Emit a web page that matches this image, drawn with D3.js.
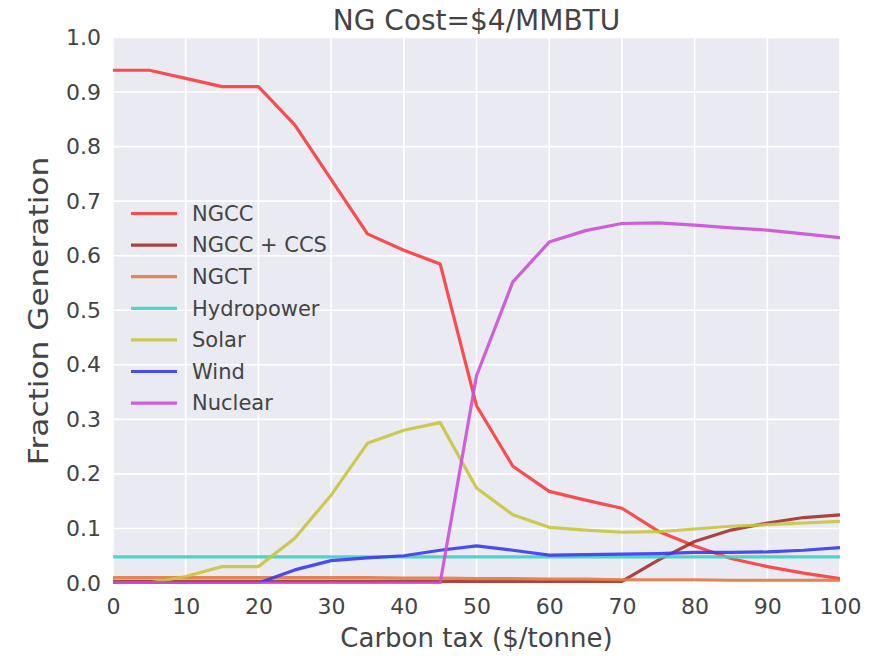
<!DOCTYPE html>
<html>
<head>
<meta charset="utf-8">
<script src="https://cdn.jsdelivr.net/npm/d3@7"></script>
<style>
  html, body { margin: 0; padding: 0; background: #ffffff; }
  svg { display: block; }
  text { font-family: "DejaVu Sans", sans-serif; fill: #444444; }
</style>
</head>
<body>
<svg id="chart" width="884" height="656"></svg>
<script>
const title = "NG Cost=$4/MMBTU";
const xLabel = "Carbon tax ($/tonne)";
const yLabel = "Fraction Generation";
const carbonTax = [0,5,10,15,20,25,30,35,40,45,50,55,60,65,70,75,80,85,90,95,100];
const xTicks = [0,10,20,30,40,50,60,70,80,90,100];
const yTicks = [0.0,0.1,0.2,0.3,0.4,0.5,0.6,0.7,0.8,0.9,1.0];
const seriesNames = ["NGCC","NGCC + CCS","NGCT","Hydropower","Solar","Wind","Nuclear"];
const seriesColors = ["#f93b3d","#a3312f","#e07b45","#3fd0c8","#c8c63c","#3a3af2","#cc4fd8"];
const ngcc      = [0.94,0.94,0.925,0.91,0.91,0.84,0.74,0.64,0.61,0.585,0.325,0.214,0.168,0.152,0.137,0.095,0.068,0.045,0.03,0.018,0.008];
const ngccCcs   = [0.003,0.003,0.003,0.003,0.003,0.003,0.003,0.003,0.003,0.003,0.003,0.003,0.003,0.003,0.003,0.042,0.076,0.097,0.11,0.12,0.125];
const ngct      = [0.01,0.01,0.01,0.01,0.01,0.01,0.01,0.01,0.009,0.009,0.008,0.008,0.007,0.007,0.006,0.006,0.006,0.005,0.005,0.005,0.005];
const hydro     = [0.048,0.048,0.048,0.048,0.048,0.048,0.048,0.048,0.048,0.048,0.048,0.048,0.048,0.048,0.048,0.048,0.048,0.048,0.048,0.048,0.048];
const solar     = [0.0,0.0,0.012,0.03,0.03,0.082,0.161,0.256,0.28,0.294,0.174,0.125,0.102,0.097,0.093,0.094,0.099,0.104,0.107,0.11,0.113];
const wind      = [0.0,0.0,0.0,0.0,0.0,0.024,0.041,0.046,0.05,0.06,0.068,0.06,0.051,0.052,0.053,0.054,0.056,0.056,0.057,0.06,0.065];
const nuclear   = [0.0,0.0,0.0,0.0,0.0,0.0,0.0,0.0,0.0,0.0,0.38,0.552,0.625,0.646,0.659,0.66,0.656,0.651,0.647,0.64,0.633];
const seriesValues = [ngcc, ngccCcs, ngct, hydro, solar, wind, nuclear];

const svg = d3.select("#chart");
const pLeft = 113, pRight = 840, pTop = 38, pBottom = 584;
const x = d3.scaleLinear().domain([0,100]).range([pLeft, pRight]);
const y = d3.scaleLinear().domain([0,1]).range([583, 37.5]);

// plot background
svg.append("rect").attr("x", pLeft).attr("y", pTop).attr("width", pRight-pLeft).attr("height", pBottom-pTop).attr("fill", "#eaeaf2");

svg.append("defs").append("clipPath").attr("id","clip")
  .append("rect").attr("x", pLeft).attr("y", pTop).attr("width", pRight-pLeft).attr("height", pBottom-pTop);

// grid
const grid = svg.append("g");
grid.selectAll("line.v").data(xTicks).join("line")
  .attr("x1", d => x(d)).attr("x2", d => x(d)).attr("y1", pTop).attr("y2", pBottom)
  .attr("stroke", "#ffffff").attr("stroke-width", 1.6);
grid.selectAll("line.h").data(yTicks).join("line")
  .attr("x1", pLeft).attr("x2", pRight).attr("y1", d => y(d)).attr("y2", d => y(d))
  .attr("stroke", "#ffffff").attr("stroke-width", 1.6);

// axes (text only, seaborn darkgrid style)
const xAxis = d3.axisBottom(x).tickValues(xTicks).tickFormat(d3.format("d")).tickSize(0).tickPadding(14);
const gx = svg.append("g").attr("transform", `translate(0,${pBottom})`).call(xAxis);
gx.select(".domain").remove();
gx.selectAll("text").style("font-size", "22px").attr("fill", "#444444").style("font-family", "DejaVu Sans");

const yAxis = d3.axisLeft(y).tickValues(yTicks).tickFormat(d3.format(".1f")).tickSize(0).tickPadding(12);
const gy = svg.append("g").attr("transform", `translate(${pLeft},0)`).call(yAxis);
gy.select(".domain").remove();
gy.selectAll("text").style("font-size", "22px").attr("fill", "#444444").style("font-family", "DejaVu Sans");

// lines
const line = d3.line().x((d,i) => x(carbonTax[i])).y(d => y(d));
const lines = svg.append("g").attr("clip-path", "url(#clip)");
seriesValues.forEach((vals, k) => {
  lines.append("path").datum(vals)
    .attr("d", line)
    .attr("fill", "none")
    .attr("stroke", seriesColors[k])
    .attr("stroke-width", 3.2)
    .attr("stroke-linejoin", "round")
    .attr("stroke-opacity", 0.9);
});

// legend
const legend = svg.append("g");
seriesNames.forEach((name, k) => {
  const ly = 213.5 + k * 31.6;
  legend.append("line").attr("x1", 131).attr("x2", 177).attr("y1", ly).attr("y2", ly)
    .attr("stroke", seriesColors[k]).attr("stroke-width", 3.2).attr("stroke-opacity", 0.9);
  legend.append("text").attr("x", 192).attr("y", ly).attr("dy", "0.35em")
    .style("font-size", "21px").text(name);
});

// title and labels
svg.append("text").attr("x", (pLeft+pRight)/2).attr("y", 30).attr("text-anchor", "middle")
  .style("font-size", "28px").text(title);
svg.append("text").attr("x", (pLeft+pRight)/2).attr("y", 647).attr("text-anchor", "middle")
  .style("font-size", "26px").text(xLabel);
svg.append("text").attr("transform", `translate(48,${(pTop+pBottom)/2}) rotate(-90) scale(1.2,1)`).attr("text-anchor", "middle")
  .style("font-size", "26px").text(yLabel);
</script>
</body>
</html>
